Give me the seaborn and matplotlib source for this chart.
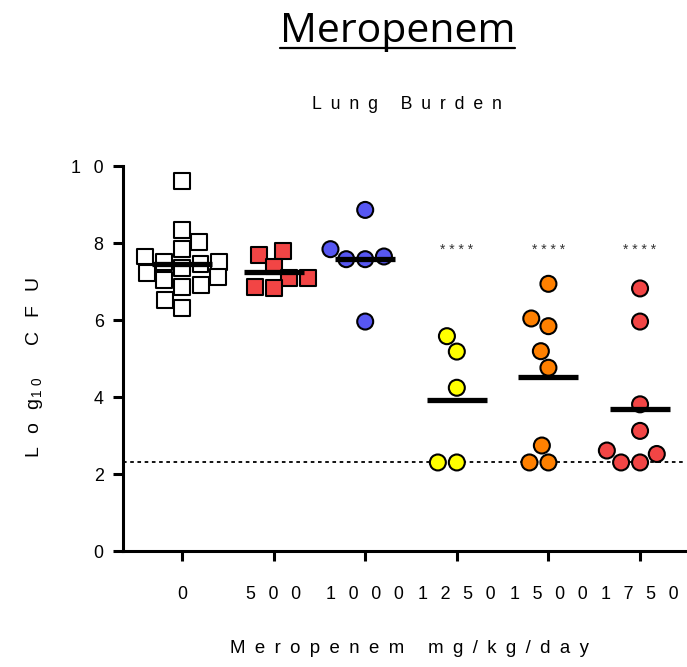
import matplotlib
matplotlib.use("Agg")
import matplotlib.pyplot as plt
from matplotlib.lines import Line2D
import pandas as pd
import seaborn as sns

# Dose groups (mg/kg/day) and lung burden per animal (log10 CFU)
doses = ["0", "500", "1000", "1250", "1500", "1750"]
cfu_0 = [9.60, 8.34, 8.02, 7.84, 7.65, 7.51, 7.51, 7.45, 7.35, 7.21,
         7.11, 7.04, 6.91, 6.87, 6.52, 6.30]
cfu_500 = [7.79, 7.70, 7.39, 7.08, 7.08, 6.87, 6.82]
cfu_1000 = [8.86, 7.84, 7.65, 7.58, 7.58, 5.96]
cfu_1250 = [5.58, 5.18, 4.24, 2.30, 2.30]
cfu_1500 = [6.94, 6.04, 5.84, 5.19, 4.76, 2.74, 2.30, 2.30]
cfu_1750 = [6.82, 5.96, 3.81, 3.12, 2.61, 2.52, 2.30, 2.30]
detection_limit = 2.3
significant = ["1250", "1500", "1750"]
y_ticks = [0, 2, 4, 6, 8, 10]

colors = ["#FFFFFF", "#F24545", "#5757F2", "#FFFF00", "#FF8000", "#F24545"]
markers = ["s", "s", "o", "o", "o", "o"]

groups = [cfu_0, cfu_500, cfu_1000, cfu_1250, cfu_1500, cfu_1750]
df = pd.concat(
    [pd.DataFrame({"dose": d, "cfu": v, "marker": m})
     for d, v, m in zip(doses, groups, markers)],
    ignore_index=True,
)
palette = dict(zip(doses, colors))

sns.set_style("ticks")
plt.rcParams["font.family"] = ["Liberation Sans", "DejaVu Sans"]
plt.rcParams["mathtext.default"] = "regular"
plt.rcParams["text.color"] = "black"
plt.rcParams["axes.labelcolor"] = "black"

TICK_GAP = "\u2002\u2009"
LABEL_GAP = "\u2002"


def spaced(text, gap):
    return gap.join(text)


fig = plt.figure(figsize=(6.87, 6.67), dpi=100)
ax = fig.add_axes([0.1790, 0.1739, 0.8180, 0.5772])

ax.axhline(detection_limit, color="black", lw=1.3, ls=(0, (2, 2)), zorder=1)

for mk in ("s", "o"):
    sub = df[df["marker"] == mk]
    sns.swarmplot(
        data=sub, x="dose", y="cfu", hue="dose", order=doses,
        hue_order=doses, palette=palette, marker=mk, size=11.5,
        linewidth=1.5, edgecolor="black", legend=False, ax=ax, zorder=3,
    )

n_before = len(ax.lines)
sns.pointplot(
    data=df, x="dose", y="cfu", order=doses, estimator="mean",
    errorbar=None, color="black", marker="_", markersize=43,
    markeredgewidth=3.8, linestyle="none", ax=ax,
)
# mean bars sit on top of the points
for line in ax.lines[n_before:]:
    line.set_zorder(6)

for d in significant:
    ax.text(doses.index(d), 7.72, "* * * *", ha="center", va="baseline",
            fontsize=10, color="#333333")

ax.set_xlim(-0.644, 5.49)
ax.set_ylim(0, 10)
ax.set_xticks(range(len(doses)), [spaced(d, TICK_GAP) for d in doses])
ax.set_yticks(y_ticks, [spaced(str(t), TICK_GAP) for t in y_ticks])
ax.tick_params(axis="both", length=7, width=2.2, labelsize=12.9,
               colors="black")
ax.tick_params(axis="x", pad=18)
ax.tick_params(axis="y", pad=7)
sns.despine(ax=ax)
for side in ("left", "bottom"):
    ax.spines[side].set_linewidth(2.2)
    ax.spines[side].set_color("black")

ax.set_xlabel(spaced("Meropenem mg/kg/day", LABEL_GAP), fontsize=13.4)
ax.xaxis.set_label_coords(0.509, -0.232)
ylab_gap = "\u2002\u2009"
ax.set_ylabel(
    "L" + ylab_gap + "o" + ylab_gap + "g$_{1\\ 0}$" + ylab_gap + " "
    + ylab_gap + spaced("CFU", ylab_gap),
    fontsize=14,
)
ax.yaxis.label.set_va("center")
ax.yaxis.set_label_coords(-0.157, 0.475)

title = fig.text(0.5786, 0.9375, "Meropenem", fontsize=29.5,
                 family=["Open Sans", "DejaVu Sans"], ha="center",
                 va="baseline")
fig.text(0.5924, 0.836, spaced("Lung Burden", LABEL_GAP), fontsize=12.7,
         ha="center", va="baseline")

# underline the title
fig.canvas.draw()
bb = title.get_window_extent().transformed(fig.transFigure.inverted())
y_ul = 1 - 48.3 / 667
fig.add_artist(Line2D([bb.x0, bb.x1], [y_ul, y_ul], color="black", lw=1.6,
                      transform=fig.transFigure))

fig.savefig("out.png", dpi=100)
